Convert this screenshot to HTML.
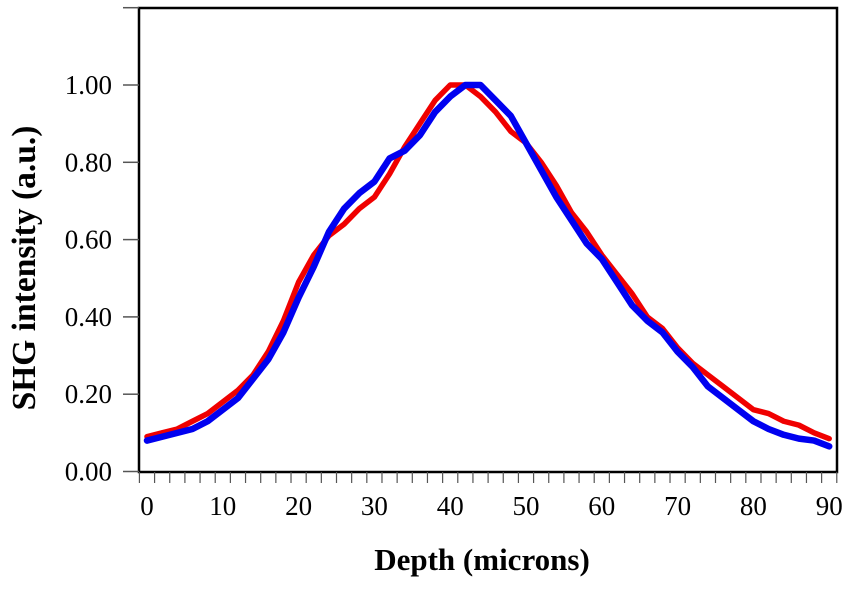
<!DOCTYPE html>
<html><head><meta charset="utf-8"><style>
html,body{margin:0;padding:0;background:#fff;}
svg text{font-family:"Liberation Serif",serif;fill:#000;}
</style></head><body>
<svg id="chart" width="851" height="584" xmlns="http://www.w3.org/2000/svg">
<g id="axes"></g>
<g id="series"></g>
<text x="482" y="570" font-size="31" font-weight="bold" text-anchor="middle">Depth (microns)</text>
<text transform="translate(35,268) rotate(-90)" font-size="33.5" font-weight="bold" text-anchor="middle">SHG intensity (a.u.)</text>
</svg>
<script>
const depths = [0,2,4,6,8,10,12,14,16,18,20,22,24,26,28,30,32,34,36,38,40,42,44,46,48,50,52,54,56,58,60,62,64,66,68,70,72,74,76,78,80,82,84,86,88,90];
const redValues = [0.09,0.10,0.11,0.13,0.15,0.18,0.21,0.25,0.31,0.39,0.49,0.56,0.61,0.64,0.68,0.71,0.77,0.84,0.90,0.96,1.00,1.00,0.97,0.93,0.88,0.85,0.80,0.74,0.67,0.62,0.56,0.51,0.46,0.40,0.37,0.32,0.28,0.25,0.22,0.19,0.16,0.15,0.13,0.12,0.10,0.085];
const blueValues = [0.08,0.09,0.10,0.11,0.13,0.16,0.19,0.24,0.29,0.36,0.45,0.53,0.62,0.68,0.72,0.75,0.81,0.83,0.87,0.93,0.97,1.00,1.00,0.96,0.92,0.85,0.78,0.71,0.65,0.59,0.55,0.49,0.43,0.39,0.36,0.31,0.27,0.22,0.19,0.16,0.13,0.11,0.095,0.085,0.08,0.065];
const yTicks = [0,0.2,0.4,0.6,0.8,1.0,1.2];
const yTickLabels = ["0.00","0.20","0.40","0.60","0.80","1.00",""];
const xTicks = [0,10,20,30,40,50,60,70,80,90];

const NS="http://www.w3.org/2000/svg";
const xs = d => 147 + d*7.58;
const ys = v => 471.5 - v*386.5;
function mk(tag, attrs, parent){const e=document.createElementNS(NS,tag);for(const k in attrs)e.setAttribute(k,attrs[k]);parent.appendChild(e);return e;}
const axes=document.getElementById('axes'), series=document.getElementById('series');
const frame = mk('rect',{x:139,y:8,width:698,height:464,fill:'none',stroke:'#000','stroke-width':2.5},axes);


yTicks.forEach((v,i)=>{
  const t=mk('line',{x1:123,x2:139,y1:ys(v),y2:ys(v),stroke:'#555','stroke-width':1.5},axes);
  
  
  if(yTickLabels[i]){
    const l=mk('text',{x:112,y:ys(v)+9,'font-size':27,'text-anchor':'end'},axes);
    l.textContent=yTickLabels[i];
    
    
  }
});
for(let d=-1; d<=91; d+=2){
  const t=mk('line',{x1:xs(d),x2:xs(d),y1:472,y2:483,stroke:'#555','stroke-width':1.2},axes);
  
  
}
xTicks.forEach(d=>{
  const l=mk('text',{x:xs(d),y:515,'font-size':27,'text-anchor':'middle'},axes);
  l.textContent=String(d);
  
  
});
function line(vals,color,w,name){
  const p=mk('polyline',{points:vals.map((v,i)=>xs(depths[i])+','+ys(v)).join(' '),fill:'none',stroke:color,'stroke-width':w,'stroke-linejoin':'round','stroke-linecap':'round'},series);
  
  
}
line(redValues,'#f00000',5.5,'red-series-line');
line(blueValues,'#0000f0',6.5,'blue-series-line');
</script>
</body></html>
